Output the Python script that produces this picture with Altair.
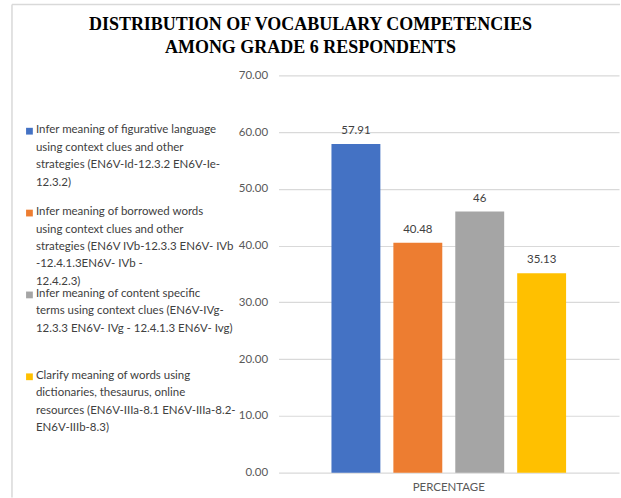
import altair as alt
import pandas as pd

# ---- data ----
competencies = [
    "Infer meaning of figurative language|using context clues and other|strategies (EN6V-Id-12.3.2 EN6V-Ie-|12.3.2)",
    "Infer meaning of borrowed words|using context clues and other|strategies (EN6V IVb-12.3.3 EN6V- IVb|-12.4.1.3EN6V- IVb -|12.4.2.3)",
    "Infer meaning of content specific|terms using context clues (EN6V-IVg-|12.3.3 EN6V- IVg - 12.4.1.3 EN6V- Ivg)",
    "Clarify meaning of words using|dictionaries, thesaurus, online|resources (EN6V-IIIa-8.1 EN6V-IIIa-8.2-|EN6V-IIIb-8.3)",
]
values = [57.91, 40.48, 46, 35.13]
value_labels = ["57.91", "40.48", "46", "35.13"]
group_name = "PERCENTAGE"
colors = ["#4472C4", "#ED7D31", "#A5A5A5", "#FFC000"]
y_ticks = [0, 10, 20, 30, 40, 50, 60, 70]
title_lines = ["DISTRIBUTION  OF VOCABULARY  COMPETENCIES", "AMONG GRADE  6 RESPONDENTS"]

df = pd.DataFrame({
    "competency": competencies,
    "value": values,
    "vlabel": value_labels,
    "group": [group_name] * len(values),
})

FONT = "Lato"
color_scale = alt.Scale(domain=competencies, range=colors)

# ---- legend panel (drawn from the same data) ----
leg_base = alt.Chart(df).encode(
    y=alt.Y("competency:N", sort=competencies,
            scale=alt.Scale(type="point", padding=0.683), axis=None)
)
leg_sym = leg_base.mark_square(size=46, opacity=1).encode(
    x=alt.value(3.5),
    color=alt.Color("competency:N", scale=color_scale, legend=None),
)
leg_txt = leg_base.mark_text(
    align="left", baseline="top", dy=-7, lineBreak="|", lineHeight=17.5,
    font=FONT, fontSize=11.5, color="#404040",
).encode(x=alt.value(10), text="competency:N")

border_data = alt.Data(values=[{"b": 1}])
left_border = alt.Chart(border_data).mark_rule(color="#d9d9d9", strokeWidth=1.5).encode(
    x=alt.value(-14), y=alt.value(-71), y2=alt.value(423)
)
top_border = alt.Chart(border_data).mark_rule(color="#d9d9d9", strokeWidth=1.5).encode(
    x=alt.value(-14), x2=alt.value(595), y=alt.value(-71)
)

legend_panel = alt.layer(left_border, top_border, leg_sym, leg_txt).properties(
    width=200, height=358
)

# ---- bar panel ----
base = alt.Chart(df).encode(
    x=alt.X("group:N", title=None,
            scale=alt.Scale(paddingOuter=0.2255, paddingInner=0),
            axis=alt.Axis(ticks=False, domain=False, labelPadding=9, labelAngle=0,
                          labelFont=FONT, labelFontSize=11.5, labelColor="#595959")),
    xOffset=alt.XOffset("competency:N", sort=competencies,
                        scale=alt.Scale(paddingInner=0.21, paddingOuter=0)),
    y=alt.Y("value:Q", title=None,
            scale=alt.Scale(domain=[0, 70], nice=False),
            axis=alt.Axis(values=y_ticks, format=".2f", ticks=False, tickSize=0,
                          domain=False, labelPadding=11, gridColor="#d9d9d9",
                          gridWidth=1.2, labelFont=FONT, labelFontSize=11.5,
                          labelColor="#595959")),
)
bars = base.mark_bar().encode(
    color=alt.Color("competency:N", scale=color_scale, legend=None)
)
labels = base.mark_text(dy=-13, font=FONT, fontSize=11.5, color="#404040").encode(
    text="vlabel:N"
)
bar_panel = alt.layer(bars, labels).properties(
    width=341, height=398,
    title=alt.TitleParams(
        text=title_lines, font="Liberation Serif", fontSize=18, fontWeight="bold",
        color="#000000", anchor="middle", frame="group", lineHeight=23,
        offset=12, dx=-138.5,
    ),
)

chart = alt.hconcat(legend_panel, bar_panel, spacing=53, bounds="flush").properties(
    padding={"left": 11, "top": 3, "right": 0, "bottom": 0},
).configure(
    background="#ffffff",
    view=alt.ViewConfig(stroke="transparent", strokeWidth=0),
)

chart.save("out.html", embed_options={"renderer": "svg", "actions": False})
